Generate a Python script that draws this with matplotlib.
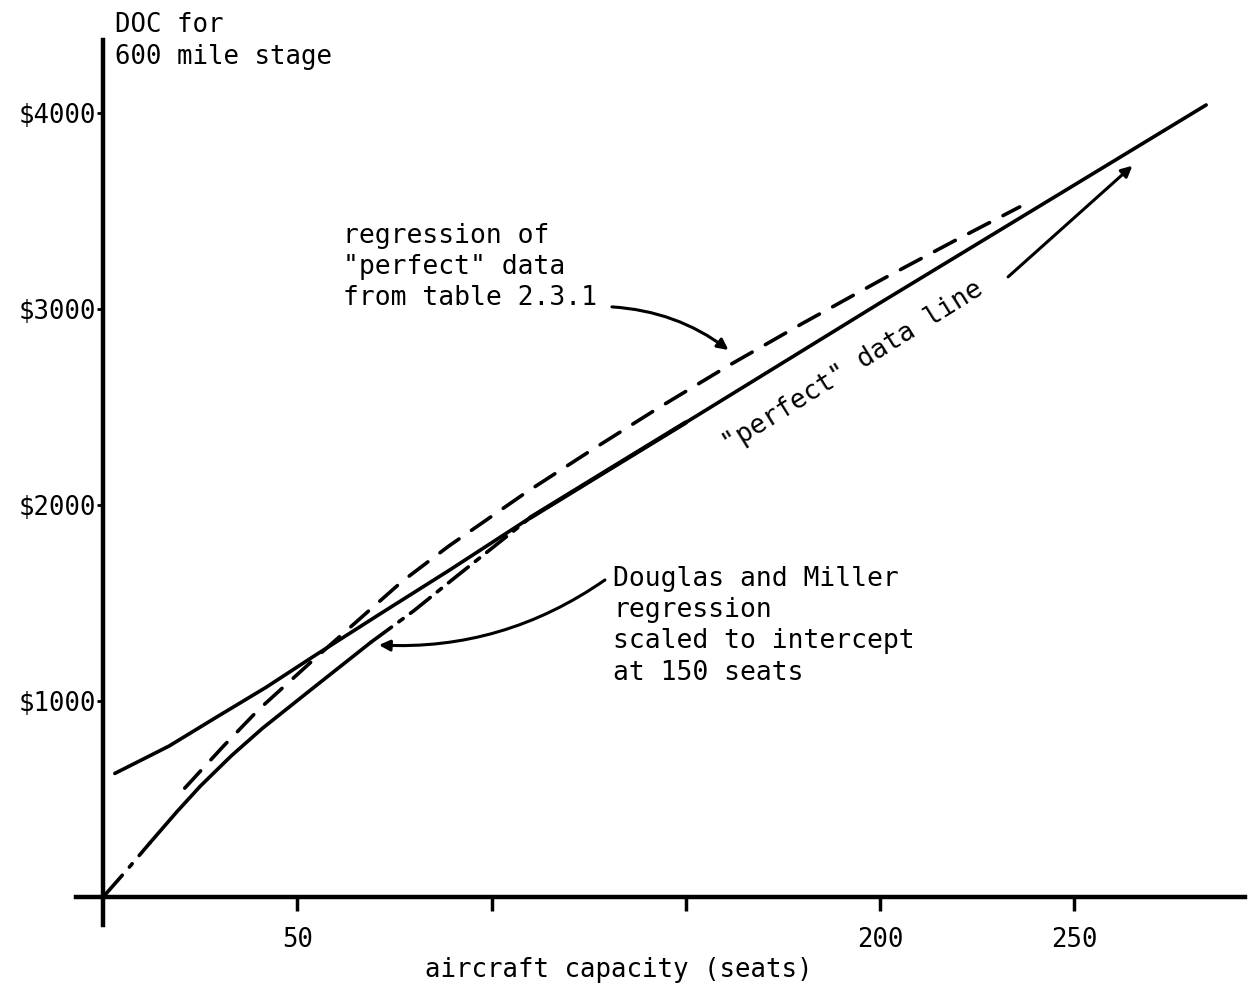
import matplotlib.pyplot as plt

# DOC vs aircraft capacity, three curves
plt.rcParams['font.family'] = ['DejaVu Sans Mono']

# "perfect" data line (solid)
perfect_x = [3, 17, 29, 42, 54, 71, 89, 110, 150, 200, 284]
perfect_y = [630, 770, 915, 1070, 1225, 1440, 1665, 1935, 2420, 3030, 4040]

# regression of "perfect" data from table 2.3.1 (dashed)
regress_x = [21, 31, 40, 55, 77, 89, 109, 125, 143, 161, 180, 201, 219, 236]
regress_y = [555, 770, 955, 1225, 1610, 1790, 2065, 2270, 2495, 2710, 2925, 3155, 3345, 3520]

# Douglas and Miller regression scaled to intercept at 150 seats
dm_x = [0, 6, 12, 19, 25, 33, 41, 54, 69, 80, 90, 110, 130, 150]
dm_y = [0, 135, 275, 435, 565, 720, 860, 1065, 1300, 1460, 1620, 1935, 2178, 2420]

x_ticks = [50, 100, 150, 200, 250]
x_tick_labels = ['50', '', '', '200', '250']
y_ticks = [1000, 2000, 3000, 4000]
y_tick_labels = ['$1000', '$2000', '$3000', '$4000']

fig = plt.figure(figsize=(12.52, 9.9), dpi=100)
ax = fig.add_axes([0.0607, 0.0657, 0.9337, 0.894])

lw = 2.6
ax.plot(perfect_x, perfect_y, color='black', lw=lw, solid_capstyle='round')
ax.plot(regress_x, regress_y, color='black', lw=lw, dashes=(6.5, 4.2),
        dash_capstyle='round')

# the hand-drawn D&M curve changes style along its length
ax.plot(dm_x[0:3], dm_y[0:3], color='black', lw=lw, dashes=(8, 3, 1.2, 3),
        dash_capstyle='round')
ax.plot(dm_x[2:9], dm_y[2:9], color='black', lw=lw, solid_capstyle='round')
ax.plot(dm_x[8:12], dm_y[8:12], color='black', lw=lw, dashes=(7, 2.5, 1.5, 2.5),
        dash_capstyle='round')
ax.plot(dm_x[11:], dm_y[11:], color='black', lw=lw + 0.6, solid_capstyle='round')

ax.set_xlim(-7, 294)
ax.set_ylim(-143, 4372)

for side in ['top', 'right']:
    ax.spines[side].set_visible(False)
for side in ['left', 'bottom']:
    ax.spines[side].set_position(('data', 0))
    ax.spines[side].set_linewidth(3.2)

ax.set_xticks(x_ticks)
ax.set_xticklabels(x_tick_labels)
ax.set_yticks(y_ticks)
ax.set_yticklabels(y_tick_labels)
ax.tick_params(axis='x', direction='out', length=10, width=2.5, pad=12, labelsize=18.5)
ax.tick_params(axis='y', direction='out', length=4, width=2, pad=1, labelsize=18.5)

ax.set_xlabel('aircraft capacity (seats)', fontsize=18.5)
ax.xaxis.label.set_va('center')
ax.xaxis.set_label_coords(0.4645, -0.0508)

ax.set_ylabel('DOC for\n600 mile stage', fontsize=18.5, rotation=0,
              ha='left', va='top', linespacing=1.3)
ax.yaxis.set_label_coords(0.033, 1.031)

arrow_kw = dict(arrowstyle='-|>', color='black', lw=2.2, mutation_scale=16,
                shrinkA=0, shrinkB=0)

ax.text(61.8, 3440, 'regression of\n"perfect" data\nfrom table 2.3.1',
        fontsize=19, ha='left', va='top', linespacing=1.27)
ax.annotate('', xy=(161, 2790), xytext=(131, 3010),
            arrowprops=dict(connectionstyle='arc3,rad=-0.15', **arrow_kw))

ax.text(131.3, 1690, 'Douglas and Miller\nregression\nscaled to intercept\nat 150 seats',
        fontsize=19, ha='left', va='top', linespacing=1.27)
ax.annotate('', xy=(71, 1285), xytext=(129.2, 1617),
            arrowprops=dict(connectionstyle='arc3,rad=-0.17', **arrow_kw))

ax.annotate('', xy=(265, 3730), xytext=(233, 3163),
            arrowprops=dict(connectionstyle='arc3,rad=0', **arrow_kw))

ax.text(193, 2704, '"perfect" data line', fontsize=19, rotation=32,
        rotation_mode='anchor', ha='center', va='center')

fig.savefig('out.png', dpi=100)
